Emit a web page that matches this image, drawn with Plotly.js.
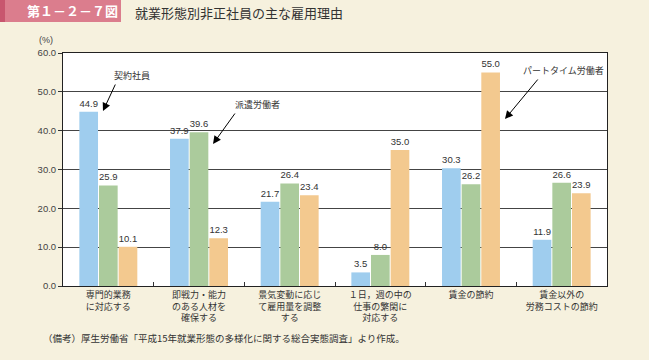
<!DOCTYPE html>
<html><head><meta charset="utf-8">
<script src="https://cdn.plot.ly/plotly-3.0.1.min.js"></script>
<style>html,body{margin:0;padding:0;background:#F6F1DE;}#c{width:649px;height:360px;}</style>
</head><body><div id="c"></div>
<script>
const categories = ["専門的業務<br>に対応する","即戦力・能力<br>のある人材を<br>確保する","景気変動に応じ<br>て雇用量を調整<br>する","１日，週の中の<br>仕事の繁閑に<br>対応する","賃金の節約","賃金以外の<br>労務コストの節約"];
const seriesNames = ["契約社員","派遣労働者","パートタイム労働者"];
const keiyaku = [44.9, 37.9, 21.7, 3.5, 30.3, 11.9];
const haken = [25.9, 39.6, 26.4, 8.0, 26.2, 26.6];
const part = [10.1, 12.3, 23.4, 35.0, 55.0, 23.9];
const yTicks = [0,10,20,30,40,50,60];
const yTickLabels = ["0.0","10.0","20.0","30.0","40.0","50.0","60.0"];

const L=63, R=607, T=53, B=286;
const px = x => (x-L)/(R-L);
const py = y => (B-y)/(B-T);
const colors = ["#9FCDEE","#ABCB9C","#F3C98F"];
const vals = [keiyaku, haken, part];
const traces = vals.map((v,i)=>({
  type:'bar', x:categories, y:v, name:seriesNames[i],
  marker:{color:colors[i], line:{width:0}},
  text:v.map(d=>d.toFixed(1)), textposition:'outside', cliponaxis:false, constraintext:'none',
  textfont:{family:'Liberation Sans, Arial', size:9.5, color:'#333'},
  hoverinfo:'none'
}));
const arrowFont = {family:'Noto Sans CJK JP', size:9, color:'#333'};
const C = {xanchor:'center', yanchor:'middle', showarrow:false, xref:'paper', yref:'paper'};
const annotations = [
  {xref:'paper',yref:'paper',x:px(25),y:py(11),xanchor:'left',yanchor:'middle',showarrow:false,
   text:'<b>第１－２－７図</b>',font:{family:'Noto Sans CJK JP',size:13,color:'#fff'}},
  {xref:'paper',yref:'paper',x:px(133),y:py(12),xanchor:'left',yanchor:'middle',showarrow:false,
   text:'就業形態別非正社員の主な雇用理由',font:{family:'Noto Sans CJK JP',size:13,color:'#333'}},
  Object.assign({x:px(46),y:py(40),text:'(%)',font:{family:'Liberation Sans, Arial',size:9,color:'#444'}}, C),
  Object.assign({x:px(132),y:py(75),text:seriesNames[0],font:arrowFont}, C),
  Object.assign({x:px(257),y:py(104),text:seriesNames[1],font:arrowFont}, C),
  Object.assign({x:px(563),y:py(70),text:seriesNames[2],font:arrowFont}, C),
  {xref:'paper',yref:'paper',x:px(103),y:py(111),axref:'pixel',ayref:'pixel',ax:13,ay:-28,text:'',showarrow:true,arrowhead:2,arrowsize:1.6,arrowwidth:1,arrowcolor:'#000'},
  {xref:'paper',yref:'paper',x:px(213),y:py(144),axref:'pixel',ayref:'pixel',ax:23,ay:-32,text:'',showarrow:true,arrowhead:2,arrowsize:1.6,arrowwidth:1,arrowcolor:'#000'},
  {xref:'paper',yref:'paper',x:px(505),y:py(119),axref:'pixel',ayref:'pixel',ax:34,ay:-41,text:'',showarrow:true,arrowhead:2,arrowsize:1.6,arrowwidth:1,arrowcolor:'#000'},
  {xref:'paper',yref:'paper',x:px(41),y:py(338),xanchor:'left',yanchor:'middle',showarrow:false,
   text:'（備考）厚生労働省「平成15年就業形態の多様化に関する総合実態調査」より作成。',font:{family:'Noto Sans CJK JP',size:9.5,color:'#333'}}
];
const shapes = [
  {type:'rect',xref:'paper',yref:'paper',x0:px(0),x1:px(121),y0:py(0),y1:py(22),fillcolor:'#DB7D8D',line:{width:0},layer:'below'},
  {type:'rect',xref:'paper',yref:'paper',x0:px(0),x1:px(5),y0:py(0),y1:py(22),fillcolor:'#C8566E',line:{width:0},layer:'below'}
];
const layout = {
  width:649,height:360,margin:{l:L,r:649-R,t:T,b:360-B},
  paper_bgcolor:'#F6F1DE',plot_bgcolor:'#FFFFFF',
  showlegend:false, barmode:'group', bargap:0.35, bargroupgap:0.05,
  xaxis:{type:'category',tickson:'boundaries',ticks:'inside',ticklen:4,tickcolor:'#333',
    showline:true,linecolor:'#222',linewidth:1,mirror:true,showgrid:false,
    tickfont:{family:'Noto Sans CJK JP',size:9,color:'#333'},fixedrange:true},
  yaxis:{range:[0,60],tickvals:yTicks,ticktext:yTickLabels,ticks:'outside',ticklen:4,tickcolor:'#333',
    showline:true,linecolor:'#222',linewidth:1,mirror:true,showgrid:true,gridcolor:'#444',gridwidth:1,
    zeroline:false,tickfont:{family:'Liberation Sans, Arial',size:9.5,color:'#444'},fixedrange:true},
  annotations, shapes
};
Plotly.newPlot('c', traces, layout, {staticPlot:true});
</script></body></html>
